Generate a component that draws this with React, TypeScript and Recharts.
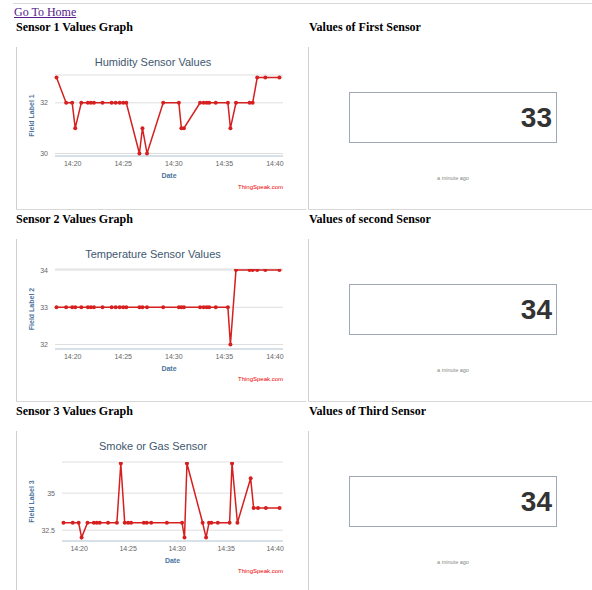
import { LineChart, Line, XAxis, YAxis, CartesianGrid } from 'recharts';

// minutes after 14:00 for each feed entry (shared by all three fields)
const minutes = [
  18.4, 19.35, 19.95, 20.25, 20.85, 21.5, 21.8, 22.1, 22.95, 23.85, 24.25, 24.65, 25.0, 25.3,
  26.6, 26.9, 27.35, 28.95, 30.5, 30.75, 31.0, 32.6, 32.95, 33.25, 33.5, 34.15, 35.35, 35.6,
  36.15, 37.5, 37.8, 38.25, 39.05, 40.45,
];
const humidity = [
  33, 32, 32, 31, 32, 32, 32, 32, 32, 32, 32, 32, 32, 32, 30, 31, 30, 32, 32, 31, 31, 32, 32,
  32, 32, 32, 32, 31, 32, 32, 32, 33, 33, 33,
];
const temperature = [
  33, 33, 33, 33, 33, 33, 33, 33, 33, 33, 33, 33, 33, 33, 33, 33, 33, 33, 33, 33, 33, 33, 33,
  33, 33, 33, 33, 32, 34, 34, 34, 34, 34, 34,
];
const smoke = [
  33, 33, 33, 32, 33, 33, 33, 33, 33, 33, 37, 33, 33, 33, 33, 33, 33, 33, 33, 32, 37, 33, 32,
  33, 33, 33, 33, 37, 33, 36, 34, 34, 34, 34,
];
const timeTicks = [20, 25, 30, 35, 40];
const timeLabels = ['14:20', '14:25', '14:30', '14:35', '14:40'];
const latestValues = [33, 34, 34];

const RED = '#d62020';
const SANS = '"Liberation Sans", Arial, sans-serif';
const SERIF = '"Liberation Serif", "Times New Roman", serif';

type ChartProps = {
  row: number;
  title: string;
  yLabel: string;
  values: number[];
  yDomain: [number, number];
  yTicks: number[];
  yWidth: number;
  top: number;
  bottom: number;
};

const SensorChart = ({ row, title, yLabel, values, yDomain, yTicks, yWidth, top, bottom }: ChartProps) => {
  const data = minutes.map((t, i) => ({ t, v: values[i] }));
  const y0 = 47 + row * 192;
  return (
    <>
      <div style={{ position: 'absolute', left: 18, top: y0 + 8, width: 270, textAlign: 'center', fontFamily: SANS, fontSize: 11, lineHeight: '14px', color: '#3e576f' }}>
        {title}
      </div>
      <div style={{ position: 'absolute', left: 18, top: y0 }}>
        <LineChart width={288} height={163} data={data} margin={{ top, right: 23, bottom, left: 7 }}>
          <CartesianGrid vertical={false} stroke="#dedede" />
          <XAxis
            dataKey="t"
            type="number"
            domain={[18.25, 40.8]}
            ticks={timeTicks}
            tickFormatter={(v: number) => timeLabels[timeTicks.indexOf(v)]}
            tick={{ fontSize: 7, fill: '#666', fontFamily: SANS }}
            tickLine={false}
            tickSize={0}
            tickMargin={5}
            axisLine={{ stroke: '#c0d0e0' }}
            height={22}
            label={{ value: 'Date', position: 'insideBottom', offset: 0, fill: '#4d759e', fontSize: 7, fontWeight: 'bold', fontFamily: SANS }}
          />
          <YAxis
            type="number"
            domain={yDomain}
            ticks={yTicks}
            allowDataOverflow
            width={yWidth}
            tick={{ fontSize: 7, fill: '#666', fontFamily: SANS }}
            tickLine={false}
            axisLine={false}
            tickSize={0}
            tickMargin={7}
            label={{ value: yLabel, angle: -90, position: 'insideLeft', offset: 7, style: { textAnchor: 'middle' }, fill: '#4d759e', fontSize: 7, fontWeight: 'bold', fontFamily: SANS }}
          />
          <Line
            type="linear"
            dataKey="v"
            stroke={RED}
            strokeWidth={1.5}
            dot={{ r: 2, fill: RED, stroke: RED, strokeWidth: 0 }}
            isAnimationActive={false}
          />
        </LineChart>
      </div>
      <div style={{ position: 'absolute', left: 183, top: y0 + 136, width: 100, textAlign: 'right', fontFamily: SANS, fontSize: 6, lineHeight: '8px', color: '#e00' }}>
        ThingSpeak.com
      </div>
    </>
  );
};

const ValueBox = ({ row, value }: { row: number; value: number }) => {
  const y0 = row * 192;
  return (
    <>
      <div style={{ position: 'absolute', left: 349, top: y0 + 92, width: 208, height: 51, boxSizing: 'border-box', border: '1px solid #9ea8b6', textAlign: 'right', paddingRight: 4, fontFamily: SANS, fontWeight: 'bold', fontSize: 28, lineHeight: '49px', color: '#333' }}>
        {value}
      </div>
      <div style={{ position: 'absolute', left: 349, top: y0 + 175, width: 208, textAlign: 'center', fontFamily: SANS, fontSize: 5.5, lineHeight: '6px', color: '#888' }}>
        a minute ago
      </div>
    </>
  );
};

const leftHeads = ['Sensor 1 Values Graph', 'Sensor 2 Values Graph', 'Sensor 3 Values Graph'];
const rightHeads = ['Values of First Sensor', 'Values of second Sensor', 'Values of Third Sensor'];

export default function App() {
  const head = { position: 'absolute' as const, fontFamily: SERIF, fontWeight: 'bold' as const, fontSize: 12, lineHeight: '14px', color: '#000' };
  const frame = { position: 'absolute' as const, boxSizing: 'border-box' as const, height: 163, borderLeft: '1.5px solid #d0d0d0', borderBottom: '1.5px solid #d8d8d8' };
  return (
    <div style={{ position: 'absolute', left: 0, top: 0, width: 592, height: 590, overflow: 'hidden', background: '#fff' }}>
      <div style={{ position: 'absolute', left: 13, top: 3, width: 579, height: 0, borderTop: '1.5px solid #d8d8d8' }} />
      <a href="#" style={{ position: 'absolute', left: 14, top: 5, fontFamily: SERIF, fontSize: 12, lineHeight: '14px', color: '#551a8b' }}>
        Go To Home
      </a>
      {[0, 1, 2].map((r) => (
        <div key={r}>
          <div style={{ ...head, left: 16, top: 20 + r * 192 }}>{leftHeads[r]}</div>
          <div style={{ ...head, left: 309, top: 20 + r * 192 }}>{rightHeads[r]}</div>
          <div style={{ ...frame, left: 16, top: 47 + r * 192, width: 290 }} />
          <div style={{ ...frame, left: 308, top: 47 + r * 192, width: 284 }} />
          <ValueBox row={r} value={latestValues[r]} />
        </div>
      ))}
      <SensorChart row={0} title="Humidity Sensor Values" yLabel="Field Label 1" values={humidity} yDomain={[29.9, 33.1]} yTicks={[30, 32]} yWidth={30} top={28} bottom={32} />
      <SensorChart row={1} title="Temperature Sensor Values" yLabel="Field Label 2" values={temperature} yDomain={[31.88, 34.03]} yTicks={[32, 33, 34]} yWidth={30} top={30} bottom={31} />
      <SensorChart row={2} title="Smoke or Gas Sensor" yLabel="Field Label 3" values={smoke} yDomain={[31.77, 37.1]} yTicks={[32.5, 35]} yWidth={37} top={31} bottom={31} />
    </div>
  );
}
